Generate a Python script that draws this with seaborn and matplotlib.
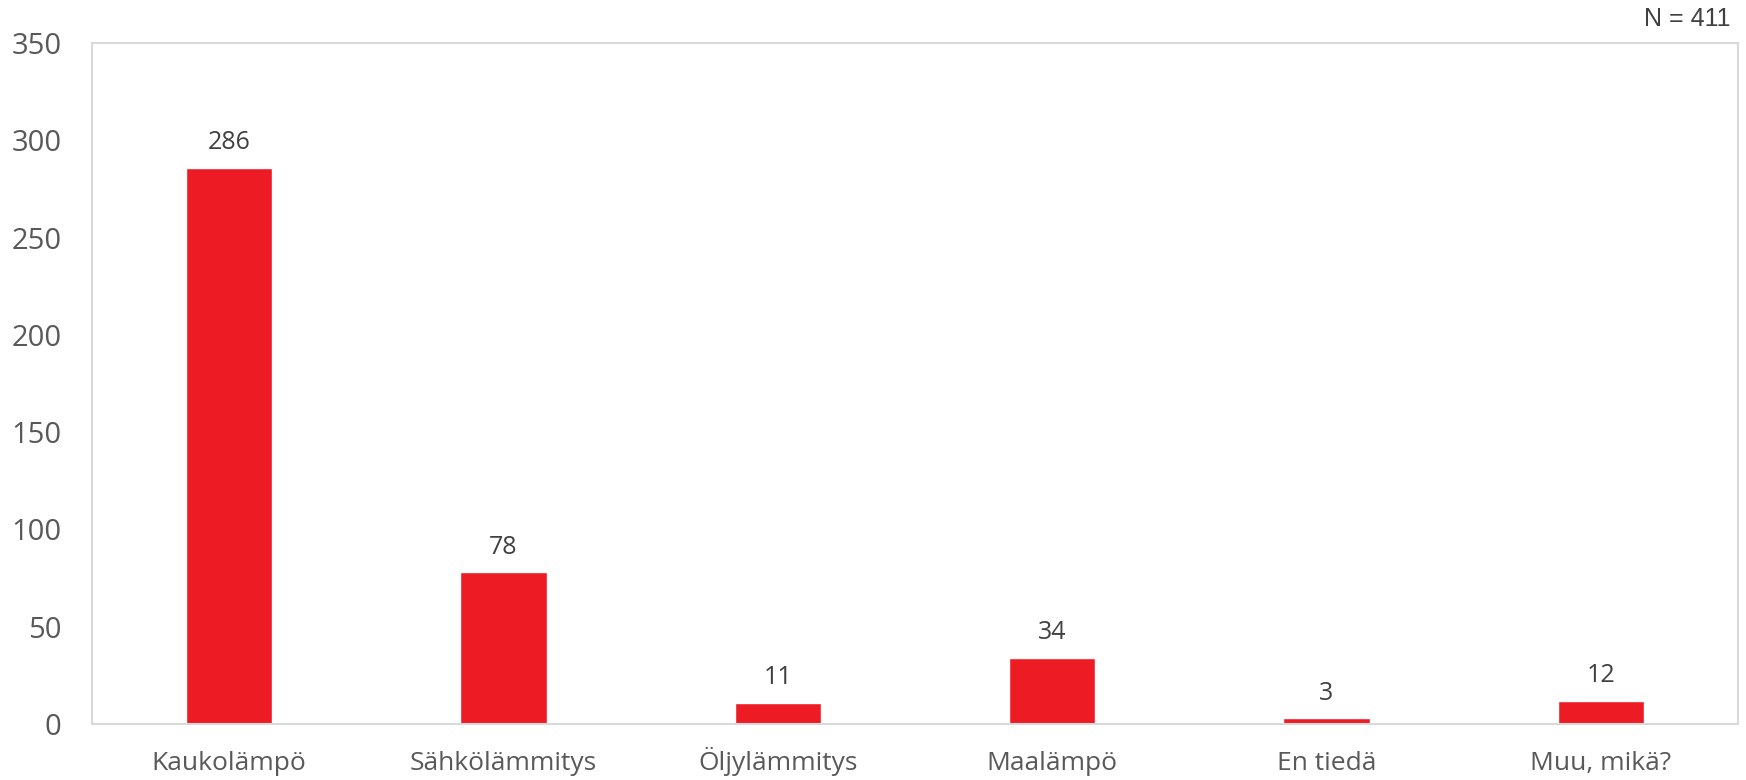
import matplotlib.pyplot as plt
import pandas as pd
import seaborn as sns

categories = ["Kaukolämpö", "Sähkölämmitys", "Öljylämmitys", "Maalämpö", "En tiedä", "Muu, mikä?"]
counts = [286, 78, 11, 34, 3, 12]
y_ticks = [0, 50, 100, 150, 200, 250, 300, 350]
n_label = "N = 411"

bar_color = "#ED1C24"
text_color = "#595959"
frame_color = "#D9D9D9"

sns.set_theme(style="white")
plt.rcParams["font.family"] = ["Open Sans", "DejaVu Sans"]

df = pd.DataFrame({"Lämmitys": categories, "Määrä": counts})

fig = plt.figure(figsize=(17.46, 7.8), dpi=100)
ax = fig.add_axes([0.0527, 0.0718, 0.9427, 0.8731])

sns.barplot(data=df, x="Lämmitys", y="Määrä", color=bar_color, width=0.314,
            saturation=1, ax=ax)

ax.set_ylim(0, 350)
ax.set_yticks(y_ticks)
ax.set_xlim(-0.5, len(categories) - 0.5)
ax.set_xlabel("")
ax.set_ylabel("")
ax.tick_params(axis="y", labelsize=21, colors=text_color, length=0, pad=22)
ax.tick_params(axis="x", labelsize=19, colors=text_color, length=0, pad=33)
for lbl in ax.get_xticklabels():
    lbl.set_verticalalignment("baseline")

for spine in ax.spines.values():
    spine.set_visible(True)
    spine.set_color(frame_color)
    spine.set_linewidth(1.5)

for container in ax.containers:
    ax.bar_label(container, labels=[str(v) for v in counts], padding=9,
                 fontsize=18, color="#404040")

fig.text(0.991, 0.975, n_label, ha="right", va="center", fontsize=18,
         color="#404040", family=["Liberation Sans", "DejaVu Sans"])

fig.savefig("out.png", dpi=100)
plt.close(fig)
